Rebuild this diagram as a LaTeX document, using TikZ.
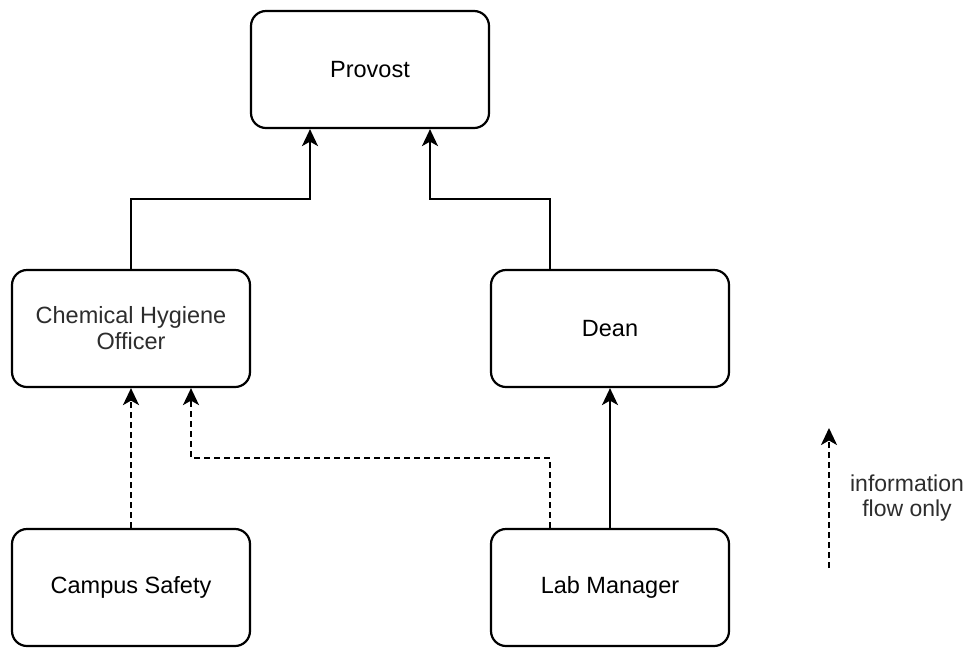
\documentclass[tikz,border=0pt]{standalone}
\usepackage{fontspec}
\setmainfont{Liberation Sans}
\usetikzlibrary{arrows.meta,calc}
\definecolor{softtext}{RGB}{45,45,45}
\begin{document}
\begin{tikzpicture}[x=1pt,y=-1pt,
  box/.style={draw=black, line width=2.2pt, rounded corners=15pt, fill=white,
    minimum width=238pt, minimum height=117pt, inner sep=0pt, align=center,
    font=\fontsize{23.5pt}{26pt}\selectfont},
  arr/.style={draw=black, line width=2.2pt,
    -{Stealth[length=17pt, width=16pt, inset=4.5pt]}},
  dashline/.style={dash pattern=on 6pt off 4pt}
]
\useasboundingbox (0,0) rectangle (973,649);
\node[box] (provost) at (370,69.5) {Provost};
\node[box, text=softtext] (cho) at (131,328.5) {Chemical Hygiene\\Officer};
\node[box] (dean) at (610,328.5) {Dean};
\node[box] (campus) at (131,587.5) {Campus Safety};
\node[box] (lab) at (610,587.5) {Lab Manager};

\draw[arr] (cho.north) |- ($(provost.south)+(-60,70)$) -- ([xshift=-60pt]provost.south);
\draw[arr] ([xshift=-60pt]dean.north) |- ($(provost.south)+(60,70)$) -- ([xshift=60pt]provost.south);
\draw[arr] (lab.north) -- (dean.south);
\draw[arr, dashline] (campus.north) -- (cho.south);
\draw[arr, dashline] ([xshift=-60pt]lab.north) |- ($(cho.south)+(60,70)$) -- ([xshift=60pt]cho.south);

\coordinate (legb) at (829,568);
\coordinate (legt) at (829,428);
\draw[arr, dashline] (legb) -- (legt);
\node[align=center, text=softtext, font=\fontsize{23pt}{24.5pt}\selectfont] (legtext) at (907,498) {information\\flow only};
\end{tikzpicture}
\end{document}
